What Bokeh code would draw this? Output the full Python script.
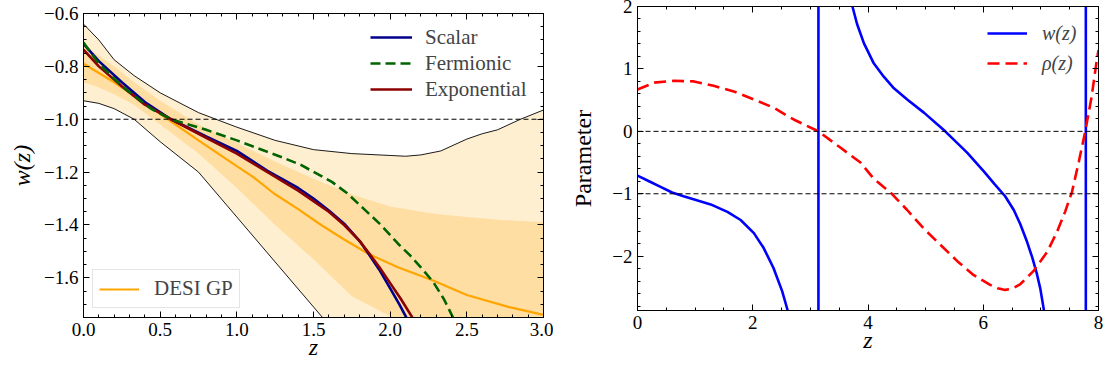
import numpy as np
from bokeh.plotting import figure
from bokeh.models import (LinearAxis, FixedTicker, CustomJSTickFormatter, Legend,
                          LegendItem, Span)
from bokeh.layouts import row
from bokeh.embed import file_html
from bokeh.resources import INLINE

FONT = "Liberation Serif"

# ---------------- Left panel data ----------------
z_scalar = [0, 0.1, 0.25, 0.4, 0.57, 0.8, 1.0, 1.2, 1.4, 1.5, 1.6, 1.7, 1.8, 1.86,
            1.93, 2.0, 2.06, 2.11, 2.2]
w_scalar = [-0.715, -0.78, -0.86, -0.935, -1.0, -1.065, -1.12, -1.195, -1.26, -1.30,
            -1.345, -1.395, -1.46, -1.51, -1.57, -1.64, -1.70, -1.755, -1.86]

z_exp = [0, 0.1, 0.25, 0.4, 0.57, 0.8, 1.0, 1.2, 1.4, 1.5, 1.6, 1.7, 1.8, 1.86,
         1.93, 2.0, 2.07, 2.15, 2.25]
w_exp = [-0.737, -0.80, -0.875, -0.945, -1.0, -1.07, -1.13, -1.20, -1.27, -1.31,
         -1.35, -1.40, -1.46, -1.505, -1.56, -1.62, -1.68, -1.755, -1.88]

z_ferm = [0, 0.1, 0.25, 0.44, 0.57, 0.8, 1.0, 1.285, 1.415, 1.62, 1.72, 1.83, 1.94,
          2.05, 2.13, 2.2, 2.28, 2.35, 2.41, 2.5]
w_ferm = [-0.71, -0.79, -0.875, -0.96, -1.0, -1.04, -1.08, -1.142, -1.172, -1.237,
          -1.28, -1.34, -1.40, -1.47, -1.515, -1.56, -1.615, -1.68, -1.75, -1.87]

z_desi = [0, 0.2, 0.44, 0.55, 0.75, 0.98, 1.11, 1.24, 1.4, 1.55, 1.7, 1.86, 2.05,
          2.28, 2.5, 2.77, 3.0]
w_desi = [-0.79, -0.86, -0.955, -1.0, -1.08, -1.17, -1.22, -1.28, -1.34, -1.40,
          -1.455, -1.51, -1.56, -1.61, -1.665, -1.71, -1.74]

z_band = [0, 0.1, 0.2, 0.33, 0.5, 0.75, 1.0, 1.25, 1.5, 1.75, 2.0, 2.1, 2.2, 2.33,
          2.5, 2.6, 2.7, 2.85, 3.0]
outer_hi = [-0.64, -0.70, -0.775, -0.835, -0.90, -0.975, -1.03, -1.08, -1.115, -1.13,
            -1.137, -1.14, -1.135, -1.12, -1.075, -1.055, -1.04, -1.0, -0.965]
outer_lo = [-0.93, -0.94, -0.96, -1.0, -1.085, -1.20, -1.37, -1.54, -1.71, -1.88,
            -2.05, -2.11, -2.17, -2.25, -2.35, -2.41, -2.47, -2.56, -2.65]
inner_hi = [-0.72, -0.76, -0.80, -0.86, -0.93, -1.02, -1.09, -1.16, -1.225, -1.285,
            -1.33, -1.34, -1.35, -1.36, -1.37, -1.375, -1.38, -1.385, -1.39]
inner_lo = [-0.86, -0.88, -0.905, -0.945, -1.02, -1.13, -1.26, -1.40, -1.53, -1.67,
            -1.745, -1.78, -1.82, -1.87, -1.96, -2.0, -2.03, -2.06, -2.09]

left_ref = [-1.0]
left_xticks = [0.0, 0.5, 1.0, 1.5, 2.0, 2.5, 3.0]
left_yticks = [-1.6, -1.4, -1.2, -1.0, -0.8, -0.6]

# ---------------- Right panel data ----------------
z_w = [0, 0.2, 0.4, 0.6, 0.8, 1.0, 1.27, 1.56, 1.79, 2.02, 2.19, 2.36, 2.51, 2.60,
       2.75, 2.9, 3.05, 3.14,
       3.14, 3.25, 3.4, 3.6, 3.73, 3.81, 3.93, 4.10, 4.27, 4.45, 4.68, 4.97, 5.34,
       5.72, 6.01, 6.2, 6.38, 6.53, 6.64, 6.76, 6.85, 6.93, 6.99, 7.05, 7.2, 7.45,
       7.78, 7.78, 8.0]
w_z = [-0.71, -0.80, -0.89, -0.98, -1.04, -1.095, -1.17, -1.29, -1.42, -1.63, -1.87,
       -2.19, -2.56, -2.85, -3.5, -4.8, -9.0, -40.0,
       40.0, 12.0, 5.5, 3.0, 2.0, 1.72, 1.41, 1.09, 0.88, 0.69, 0.51, 0.30, 0.0,
       -0.34, -0.64, -0.85, -1.04, -1.26, -1.48, -1.77, -2.02, -2.28, -2.52, -2.85,
       -3.8, -6.5, -40.0, 40.0, 12.0]

z_rho = [0, 0.29, 0.63, 0.98, 1.32, 1.67, 2.02, 2.36, 2.71, 3.14, 3.52, 3.87, 4.10,
         4.39, 4.68, 4.97, 5.26, 5.55, 5.83, 6.12, 6.25, 6.38, 6.5, 6.64, 6.87, 7.11,
         7.28, 7.42, 7.54, 7.66, 7.77, 7.88, 7.97, 8.0]
rho_z = [0.67, 0.78, 0.81, 0.80, 0.73, 0.64, 0.51, 0.38, 0.19, 0.0, -0.26, -0.50,
         -0.76, -0.98, -1.26, -1.56, -1.82, -2.08, -2.30, -2.46, -2.515, -2.54, -2.52,
         -2.45, -2.24, -1.93, -1.61, -1.29, -0.97, -0.48, 0.0, 0.55, 1.14, 1.3]

right_ref = [0.0, -1.0]
right_xticks = [0, 2, 4, 6, 8]
right_yticks = [-2, -1, 0, 1, 2]


def fmt(decimals):
    return CustomJSTickFormatter(
        code="return tick.toFixed(%d).replace('-', '\u2212');" % decimals)


def style_axis(ax, ticker, formatter, show_labels=True):
    ax.ticker = ticker
    ax.major_tick_in = 6
    ax.major_tick_out = 0
    ax.minor_tick_in = 3
    ax.minor_tick_out = 0
    ax.major_tick_line_color = "black"
    ax.minor_tick_line_color = "black"
    ax.axis_line_color = "black"
    ax.axis_line_width = 1
    if show_labels:
        ax.formatter = formatter
        ax.major_label_text_font = FONT
        ax.major_label_text_font_size = "19px"
        ax.major_label_text_color = "black"
        ax.major_label_standoff = 5
        ax.axis_label_text_font = FONT
        ax.axis_label_text_font_size = "24px"
        ax.axis_label_text_color = "black"
    else:
        ax.formatter = CustomJSTickFormatter(code="return '';")
        ax.major_label_text_font_size = "1px"
        ax.major_label_standoff = 0
        ax.axis_label_standoff = 0


def setup(p, xticks, xminor, yticks, yminor, xdec, ydec):
    bottom = p.below[0]
    left = p.left[0]
    xt = FixedTicker(ticks=xticks, minor_ticks=xminor)
    yt = FixedTicker(ticks=yticks, minor_ticks=yminor)
    style_axis(bottom, xt, fmt(xdec))
    style_axis(left, yt, fmt(ydec))
    top = LinearAxis()
    style_axis(top, xt, None, False)
    p.add_layout(top, "above")
    right = LinearAxis()
    style_axis(right, yt, None, False)
    p.add_layout(right, "right")
    p.xgrid.visible = False
    p.ygrid.visible = False
    p.outline_line_color = "black"
    return bottom, left


# ---------------- Left figure ----------------
p1 = figure(width=553, height=372, x_range=(0, 3.0), y_range=(-1.75, -0.6),
            output_backend="svg", toolbar_location=None,
            min_border_left=83, min_border_right=10, min_border_top=13,
            min_border_bottom=55)
bx1, ly1 = setup(p1, left_xticks, list(np.round(np.arange(0, 3.001, 0.1), 2)),
                 left_yticks, list(np.round(np.arange(-1.75, -0.599, 0.05), 2)), 1, 1)
bx1.axis_label = "z"
bx1.axis_label_text_font_style = "italic"
bx1.axis_label_standoff = -5
ly1.axis_label = "w(z)"
ly1.axis_label_text_font_style = "italic"
ly1.axis_label_standoff = 6

p1.varea(x=z_band, y1=outer_lo, y2=outer_hi, fill_color="#FFA500", fill_alpha=0.18)
p1.varea(x=z_band, y1=inner_lo, y2=inner_hi, fill_color="#FFA500", fill_alpha=0.22)
p1.line(z_band, outer_hi, line_color="black", line_width=0.9)
p1.line(z_band, outer_lo, line_color="black", line_width=0.9)
for v in left_ref:
    p1.add_layout(Span(location=v, dimension="width", line_color="black",
                       line_width=1, line_dash="5 3"))
r_desi = p1.line(z_desi, w_desi, line_color="#FFA500", line_width=2.2)
r_scalar = p1.line(z_scalar, w_scalar, line_color="#00008B", line_width=2.6)
r_exp = p1.line(z_exp, w_exp, line_color="#8B0000", line_width=2.6)
r_ferm = p1.line(z_ferm, w_ferm, line_color="#006400", line_width=2.6, line_dash="10 5")

leg1 = Legend(items=[LegendItem(label="Scalar", renderers=[r_scalar]),
                     LegendItem(label="Fermionic", renderers=[r_ferm]),
                     LegendItem(label="Exponential", renderers=[r_exp])],
              location=(287, 215), border_line_color=None, background_fill_alpha=0,
              label_text_font=FONT, label_text_font_size="21px",
              glyph_width=42, glyph_height=26, label_height=26, spacing=0,
              padding=4, margin=0, label_standoff=13)
p1.add_layout(leg1)
leg2 = Legend(items=[LegendItem(label="DESI GP", renderers=[r_desi])],
              location="bottom_left", border_line_color="#CCCCCC",
              background_fill_color="white", background_fill_alpha=0.8,
              label_text_font=FONT, label_text_font_size="21px",
              glyph_width=40, glyph_height=20, label_height=20, spacing=0,
              padding=6, margin=9, label_standoff=15)
p1.add_layout(leg2)

# ---------------- Right figure ----------------
p2 = figure(width=553, height=372, x_range=(0, 8), y_range=(-2.87, 2.0),
            output_backend="svg", toolbar_location=None,
            min_border_left=84, min_border_right=8, min_border_top=13,
            min_border_bottom=55)
p2.styles = {"margin-top": "-7px"}
bx2, ly2 = setup(p2, right_xticks, list(np.round(np.arange(0, 8.001, 0.5), 2)),
                 right_yticks, list(np.round(np.arange(-2.8, 2.001, 0.2), 2)), 0, 0)
bx2.axis_label = "z"
bx2.axis_label_text_font_style = "italic"
bx2.axis_label_standoff = -5
ly2.axis_label = "Parameter"
ly2.axis_label_text_font_style = "normal"
ly2.axis_label_standoff = 13

for v in right_ref:
    p2.add_layout(Span(location=v, dimension="width", line_color="black",
                       line_width=1, line_dash="5 3"))
r_w = p2.line(z_w, w_z, line_color="#0000FF", line_width=2.6)
r_rho = p2.line(z_rho, rho_z, line_color="#FF0000", line_width=2.6, line_dash="12 6")

leg3 = Legend(items=[LegendItem(label="w(z)", renderers=[r_w]),
                     LegendItem(label="\u03c1(z)", renderers=[r_rho])],
              location=(350, 232), border_line_color=None, background_fill_alpha=0,
              label_text_font=FONT, label_text_font_size="20px",
              label_text_font_style="italic",
              glyph_width=40, glyph_height=30, label_height=30, spacing=0,
              padding=4, margin=0, label_standoff=15)
p2.add_layout(leg3)

layout = row(p1, p2)
open("out.html", "w").write(file_html(layout, INLINE))
